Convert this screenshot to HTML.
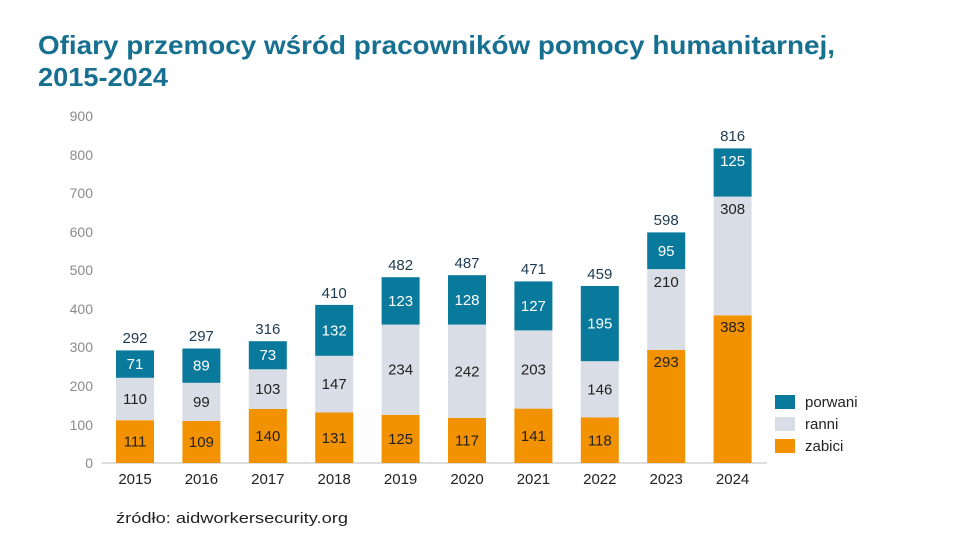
<!DOCTYPE html>
<html><head><meta charset="utf-8"><style>
body{margin:0;background:#fff;width:960px;height:554px;overflow:hidden}
svg{display:block;font-family:"Liberation Sans","DejaVu Sans",sans-serif}
.v{font-size:15px;fill:#222;text-anchor:middle}
.w{font-size:15px;fill:#fff;text-anchor:middle}
.t{font-size:15px;fill:#1d3b50;text-anchor:middle}
.ya{font-size:14px;fill:#8a8a8a;text-anchor:end}
.xa{font-size:15px;fill:#222;text-anchor:middle}
</style></head><body>
<svg width="960" height="554" viewBox="0 0 960 554">
<text x="38" y="54" font-size="26" font-weight="bold" fill="#17708f" textLength="797" lengthAdjust="spacingAndGlyphs">Ofiary przemocy wśród pracowników pomocy humanitarnej,</text>
<text x="38" y="86" font-size="26" font-weight="bold" fill="#17708f" textLength="130" lengthAdjust="spacingAndGlyphs">2015-2024</text>
<g class="ya">
<text x="93" y="468">0</text><text x="93" y="430">100</text><text x="93" y="391">200</text><text x="93" y="352">300</text><text x="93" y="314">400</text><text x="93" y="275">500</text><text x="93" y="237">600</text><text x="93" y="198">700</text><text x="93" y="160">800</text><text x="93" y="121">900</text>
</g>
<line x1="102" y1="463" x2="767" y2="463" stroke="#bbb"/>
<g>
<rect x="116" y="420.2" width="38" height="42.8" fill="#f39200"/><rect x="116" y="377.8" width="38" height="42.4" fill="#d9dee6"/><rect x="116" y="350.4" width="38" height="27.4" fill="#0a7a9c"/>
<text class="v" x="135" y="446.6">111</text><text class="v" x="135" y="404">110</text><text class="w" x="135" y="369.1">71</text><text class="t" x="135" y="343">292</text>
<rect x="182.4" y="421" width="38" height="42" fill="#f39200"/><rect x="182.4" y="382.8" width="38" height="38.2" fill="#d9dee6"/><rect x="182.4" y="348.5" width="38" height="34.3" fill="#0a7a9c"/>
<text class="v" x="201.4" y="447">109</text><text class="v" x="201.4" y="406.9">99</text><text class="w" x="201.4" y="370.6">89</text><text class="t" x="201.4" y="341">297</text>
<rect x="248.8" y="409" width="38" height="54" fill="#f39200"/><rect x="248.8" y="369.3" width="38" height="39.7" fill="#d9dee6"/><rect x="248.8" y="341.2" width="38" height="28.1" fill="#0a7a9c"/>
<text class="v" x="267.8" y="441">140</text><text class="v" x="267.8" y="394.2">103</text><text class="w" x="267.8" y="360.2">73</text><text class="t" x="267.8" y="334">316</text>
<rect x="315.2" y="412.5" width="38" height="50.5" fill="#f39200"/><rect x="315.2" y="355.8" width="38" height="56.7" fill="#d9dee6"/><rect x="315.2" y="304.9" width="38" height="50.9" fill="#0a7a9c"/>
<text class="v" x="334.2" y="442.8">131</text><text class="v" x="334.2" y="389.2">147</text><text class="w" x="334.2" y="335.4">132</text><text class="t" x="334.2" y="298">410</text>
<rect x="381.6" y="414.8" width="38" height="48.2" fill="#f39200"/><rect x="381.6" y="324.6" width="38" height="90.2" fill="#d9dee6"/><rect x="381.6" y="277.2" width="38" height="47.4" fill="#0a7a9c"/>
<text class="v" x="400.6" y="443.9">125</text><text class="v" x="400.6" y="374.7">234</text><text class="w" x="400.6" y="305.9">123</text><text class="t" x="400.6" y="270">482</text>
<rect x="448" y="417.9" width="38" height="45.1" fill="#f39200"/><rect x="448" y="324.6" width="38" height="93.3" fill="#d9dee6"/><rect x="448" y="275.2" width="38" height="49.4" fill="#0a7a9c"/>
<text class="v" x="467" y="445.5">117</text><text class="v" x="467" y="376.3">242</text><text class="w" x="467" y="304.9">128</text><text class="t" x="467" y="268">487</text>
<rect x="514.4" y="408.6" width="38" height="54.4" fill="#f39200"/><rect x="514.4" y="330.4" width="38" height="78.2" fill="#d9dee6"/><rect x="514.4" y="281.4" width="38" height="49" fill="#0a7a9c"/>
<text class="v" x="533.4" y="440.8">141</text><text class="v" x="533.4" y="374.5">203</text><text class="w" x="533.4" y="310.9">127</text><text class="t" x="533.4" y="274">471</text>
<rect x="580.8" y="417.5" width="38" height="45.5" fill="#f39200"/><rect x="580.8" y="361.2" width="38" height="56.3" fill="#d9dee6"/><rect x="580.8" y="286" width="38" height="75.2" fill="#0a7a9c"/>
<text class="v" x="599.8" y="445.3">118</text><text class="v" x="599.8" y="394.4">146</text><text class="w" x="599.8" y="328.6">195</text><text class="t" x="599.8" y="279">459</text>
<rect x="647.2" y="350" width="38" height="113" fill="#f39200"/><rect x="647.2" y="269.1" width="38" height="80.9" fill="#d9dee6"/><rect x="647.2" y="232.4" width="38" height="36.7" fill="#0a7a9c"/>
<text class="v" x="666.2" y="367">293</text><text class="v" x="666.2" y="287">210</text><text class="w" x="666.2" y="255.8">95</text><text class="t" x="666.2" y="225">598</text>
<rect x="713.6" y="315.3" width="38" height="147.7" fill="#f39200"/><rect x="713.6" y="196.6" width="38" height="118.7" fill="#d9dee6"/><rect x="713.6" y="148.4" width="38" height="48.2" fill="#0a7a9c"/>
<text class="v" x="732.6" y="332">383</text><text class="v" x="732.6" y="214">308</text><text class="w" x="732.6" y="166">125</text><text class="t" x="732.6" y="141">816</text>
</g>
<g class="xa">
<text x="135" y="484">2015</text><text x="201.4" y="484">2016</text><text x="267.8" y="484">2017</text><text x="334.2" y="484">2018</text><text x="400.6" y="484">2019</text><text x="467" y="484">2020</text><text x="533.4" y="484">2021</text><text x="599.8" y="484">2022</text><text x="666.2" y="484">2023</text><text x="732.6" y="484">2024</text>
</g>
<rect x="775" y="395" width="20" height="14" fill="#0a7a9c"/><text x="805" y="407" font-size="15" fill="#222">porwani</text>
<rect x="775" y="417" width="20" height="14" fill="#d9dee6"/><text x="805" y="429" font-size="15" fill="#222">ranni</text>
<rect x="775" y="439" width="20" height="14" fill="#f39200"/><text x="805" y="451" font-size="15" fill="#222">zabici</text>
<text x="116" y="523" font-size="15" fill="#222" textLength="232" lengthAdjust="spacingAndGlyphs">źródło: aidworkersecurity.org</text>
</svg>
</body></html>
